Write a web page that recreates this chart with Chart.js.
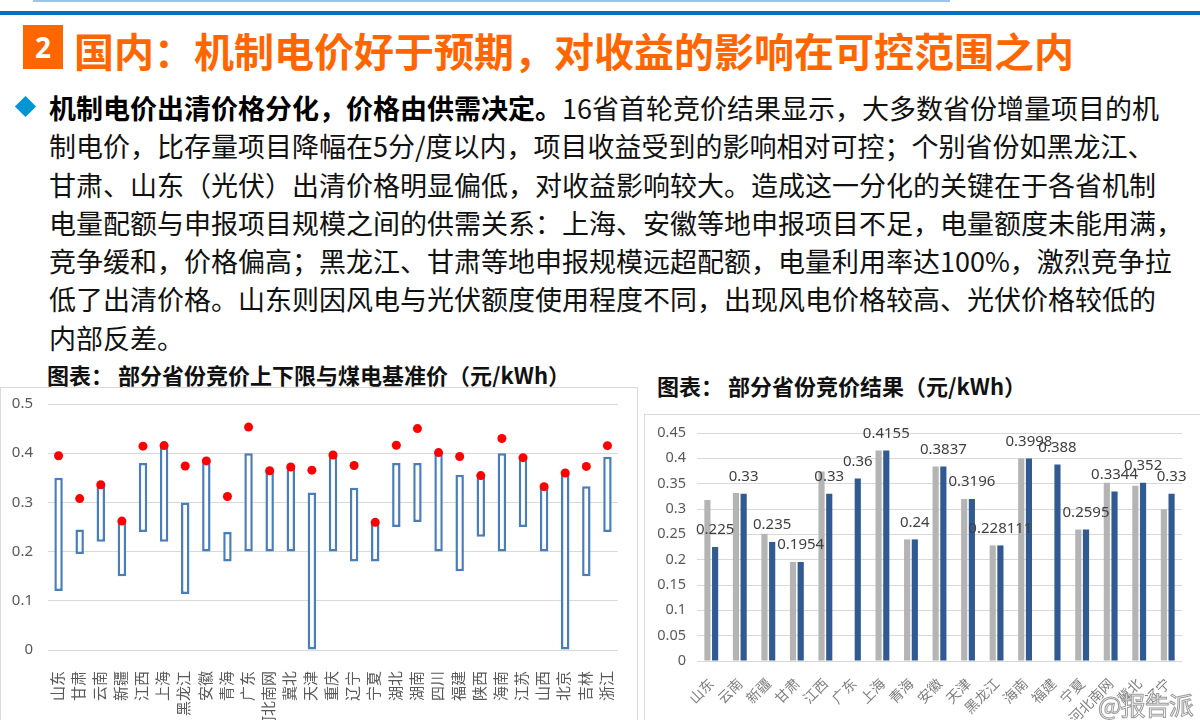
<!DOCTYPE html>
<html>
<head>
<meta charset="utf-8">
<script src="https://cdn.jsdelivr.net/npm/chart.js@4.4.1/dist/chart.umd.min.js"></script>
<style>
  html, body { margin: 0; padding: 0; }
  body { width: 1200px; height: 720px; position: relative; overflow: hidden; background: #fff;
         font-family: "Noto Sans CJK SC", "Noto Sans", sans-serif; }
  .abs { position: absolute; }
  #topThin { left: 33px; top: 0; width: 917px; height: 2px; background: #9DC3E6; }
  #topBar { left: 0; top: 11px; width: 1200px; height: 4px; background: #0070C0; }
  #numBox { left: 23px; top: 25px; width: 40px; height: 44px; background: #FF6600; color: #fff;
            font: 700 28px "Noto Sans", sans-serif; text-align: center; line-height: 44px; }
  #title { left: 74px; top: 24px; color: #FF6600; font-weight: 700; font-size: 40px; line-height: 52px; white-space: nowrap; }
  #diamond { left: 18px; top: 99px; width: 15px; height: 15px; background: #0096D6; transform: rotate(45deg); }
  #text { left: 49px; top: 89px; font-size: 27px; line-height: 38.3px; color: #111; white-space: nowrap; }
  #text b { font-weight: 700; color: #000; }
  .ctitle { font-weight: 700; font-size: 22px; color: #111; white-space: nowrap; line-height: 28px; }
  .box { border: 1px solid #D9D9D9; box-sizing: border-box; }
  #watermark { left: 1098px; top: 686px; font-size: 25px; line-height: 36px; letter-spacing: -1px;
               color: rgba(255,255,255,0.5); -webkit-text-stroke: 1px #9a9a9a; white-space: nowrap; }
</style>
</head>
<body>
<div id="topThin" class="abs"></div>
<div id="topBar" class="abs"></div>
<div id="numBox" class="abs">2</div>
<div id="title" class="abs">国内：机制电价好于预期，对收益的影响在可控范围之内</div>
<div id="diamond" class="abs"></div>
<div id="text" class="abs">
<div><b>机制电价出清价格分化，价格由供需决定。</b>16省首轮竞价结果显示，大多数省份增量项目的机</div>
<div>制电价，比存量项目降幅在5分/度以内，项目收益受到的影响相对可控；个别省份如黑龙江、</div>
<div>甘肃、山东（光伏）出清价格明显偏低，对收益影响较大。造成这一分化的关键在于各省机制</div>
<div>电量配额与申报项目规模之间的供需关系：上海、安徽等地申报项目不足，电量额度未能用满，</div>
<div>竞争缓和，价格偏高；黑龙江、甘肃等地申报规模远超配额，电量利用率达100%，激烈竞争拉</div>
<div>低了出清价格。山东则因风电与光伏额度使用程度不同，出现风电价格较高、光伏价格较低的</div>
<div>内部反差。</div>
</div>

<div class="abs ctitle" style="left:47px; top:360px;">图表： 部分省份竞价上下限与煤电基准价（元/kWh）</div>
<div class="abs box" style="left:0; top:387px; width:638px; height:345px;"></div>
<div class="abs" style="left:0; top:387px; width:637px; height:333px;"><canvas id="rangeChart"></canvas></div>

<div class="abs ctitle" style="left:657px; top:371px;">图表： 部分省份竞价结果（元/kWh）</div>
<div class="abs box" style="left:644px; top:414px; width:570px; height:320px;"></div>
<div class="abs" style="left:645px; top:414px; width:555px; height:306px;"><canvas id="resultChart"></canvas></div>

<div id="watermark" class="abs">@报告派</div>

<script>
// Left chart: bidding price range per province and coal benchmark price
const rangeProvinces = ['山东', '甘肃', '云南', '新疆', '江西', '上海', '黑龙江', '安徽', '青海', '广东', '河北南网', '冀北', '天津', '重庆',
    '辽宁', '宁夏', '湖北', '湖南', '四川', '福建', '陕西', '海南', '江苏', '山西', '北京', '吉林', '浙江'];
const lowerLimits = [0.12, 0.195, 0.22, 0.15, 0.24, 0.22, 0.114, 0.20, 0.18, 0.20, 0.20, 0.20, 0, 0.20,
    0.18, 0.18, 0.25, 0.26, 0.20, 0.16, 0.23, 0.20, 0.25, 0.20, 0, 0.15, 0.24];
const upperLimits = [0.35, 0.245, 0.335, 0.262, 0.38, 0.4155, 0.30, 0.3844, 0.24, 0.40, 0.3644, 0.372, 0.32, 0.3964,
    0.33, 0.2595, 0.38, 0.38, 0.40, 0.356, 0.3545, 0.40, 0.391, 0.332, 0.3598, 0.333, 0.393];
const coalBenchmark = [0.3949, 0.3078, 0.3358, 0.262, 0.4143, 0.4155, 0.374, 0.3844, 0.312, 0.453, 0.3644, 0.372, 0.3655, 0.3964,
    0.3749, 0.2595, 0.4161, 0.45, 0.4012, 0.3932, 0.3545, 0.4298, 0.391, 0.332, 0.3598, 0.3731, 0.4153];
const rangeYTicks = ['0', '0.1', '0.2', '0.3', '0.4', '0.5'];

// Right chart: bidding results
const resultProvinces = ['山东', '云南', '新疆', '甘肃', '江西', '广东', '上海', '青海', '安徽', '天津', '黑龙江', '海南', '福建',
    '宁夏', '河北南网', '冀北', '辽宁'];
const referencePrice = [0.318, 0.3316, 0.251, 0.1954, 0.374, null, 0.4155, 0.24, 0.3837, 0.3196, 0.228111, 0.3998, null,
    0.2595, 0.352, 0.346, 0.2993];
const mechanismPrice = [0.225, 0.33, 0.235, 0.1954, 0.33, 0.36, 0.4155, 0.24, 0.3837, 0.3196, 0.228111, 0.3998, 0.388,
    0.2595, 0.3344, 0.352, 0.33];
const resultYTicks = ['0', '0.05', '0.1', '0.15', '0.2', '0.25', '0.3', '0.35', '0.4', '0.45'];

const tickFont = { family: '"Noto Sans", "Noto Sans CJK SC", sans-serif', size: 15 };

new Chart(document.getElementById('rangeChart'), {
    type: 'bar',
    data: {
        labels: rangeProvinces,
        datasets: [{
            type: 'line',
            data: coalBenchmark,
            showLine: false,
            pointRadius: 4.5,
            pointBackgroundColor: '#FF0000',
            pointBorderColor: '#FF0000',
            pointBorderWidth: 0,
            order: 0
        }, {
            type: 'bar',
            data: lowerLimits.map((lo, i) => [lo, upperLimits[i]]),
            backgroundColor: '#FFFFFF',
            borderColor: '#4A7EBB',
            borderWidth: 2.5,
            borderSkipped: false,
            barPercentage: 0.4,
            categoryPercentage: 1,
            order: 1
        }]
    },
    options: {
        responsive: true,
        maintainAspectRatio: false,
        animation: false,
        layout: { autoPadding: false, padding: { top: 17, right: 19, left: 0, bottom: 0 } },
        plugins: { legend: { display: false }, tooltip: { enabled: false } },
        scales: {
            x: {
                offset: true,
                grid: { display: false },
                border: { display: false },
                ticks: { autoSkip: false, minRotation: 90, maxRotation: 90, padding: 13, color: '#595959', font: tickFont },
                afterFit: s => { s.height = 70; s.paddingLeft = 0; s.paddingRight = 0; }
            },
            y: {
                min: 0,
                max: 0.5,
                grid: { color: '#D9D9D9', drawTicks: false },
                border: { display: false },
                ticks: { stepSize: 0.1, padding: 15, color: '#595959', font: tickFont, callback: (v, i) => rangeYTicks[i] },
                afterFit: s => { s.width = 48; s.paddingTop = 0; s.paddingBottom = 0; }
            }
        }
    }
});

// value labels above the blue bars
const barLabels = {
    id: 'barLabels',
    afterDatasetsDraw(chart) {
        const ctx = chart.ctx;
        const meta = chart.getDatasetMeta(1);
        ctx.save();
        ctx.font = '15px "Noto Sans", sans-serif';
        ctx.fillStyle = '#404040';
        ctx.textAlign = 'center';
        ctx.textBaseline = 'middle';
        meta.data.forEach((bar, i) => {
            ctx.fillText(String(mechanismPrice[i]), bar.x, bar.y - 17);
        });
        ctx.restore();
    }
};

new Chart(document.getElementById('resultChart'), {
    type: 'bar',
    data: {
        labels: resultProvinces,
        datasets: [{
            data: referencePrice,
            backgroundColor: '#B4B4B4',
            barPercentage: 0.8,
            categoryPercentage: 0.54
        }, {
            data: mechanismPrice,
            backgroundColor: '#305A91',
            barPercentage: 0.8,
            categoryPercentage: 0.54
        }]
    },
    options: {
        responsive: true,
        maintainAspectRatio: false,
        animation: false,
        layout: { padding: { top: 19, right: 18, left: 0, bottom: 0 } },
        plugins: { legend: { display: false }, tooltip: { enabled: false } },
        scales: {
            x: {
                grid: { display: false },
                border: { display: false },
                ticks: { autoSkip: false, minRotation: 45, maxRotation: 45, padding: 6, color: '#7F7F7F',
                    font: { family: '"Noto Sans CJK SC", sans-serif', size: 14 } },
                afterFit: s => { s.height = 59; s.paddingLeft = 0; s.paddingRight = 0; }
            },
            y: {
                min: 0,
                max: 0.45,
                grid: { color: '#D9D9D9', drawTicks: false },
                border: { display: false },
                ticks: { stepSize: 0.05, padding: 11, color: '#595959', font: { family: tickFont.family, size: 14.5 },
                    callback: (v, i) => resultYTicks[i] },
                afterFit: s => { s.width = 52; s.paddingTop = 0; s.paddingBottom = 0; }
            }
        }
    },
    plugins: [barLabels]
});
</script>
</body>
</html>
